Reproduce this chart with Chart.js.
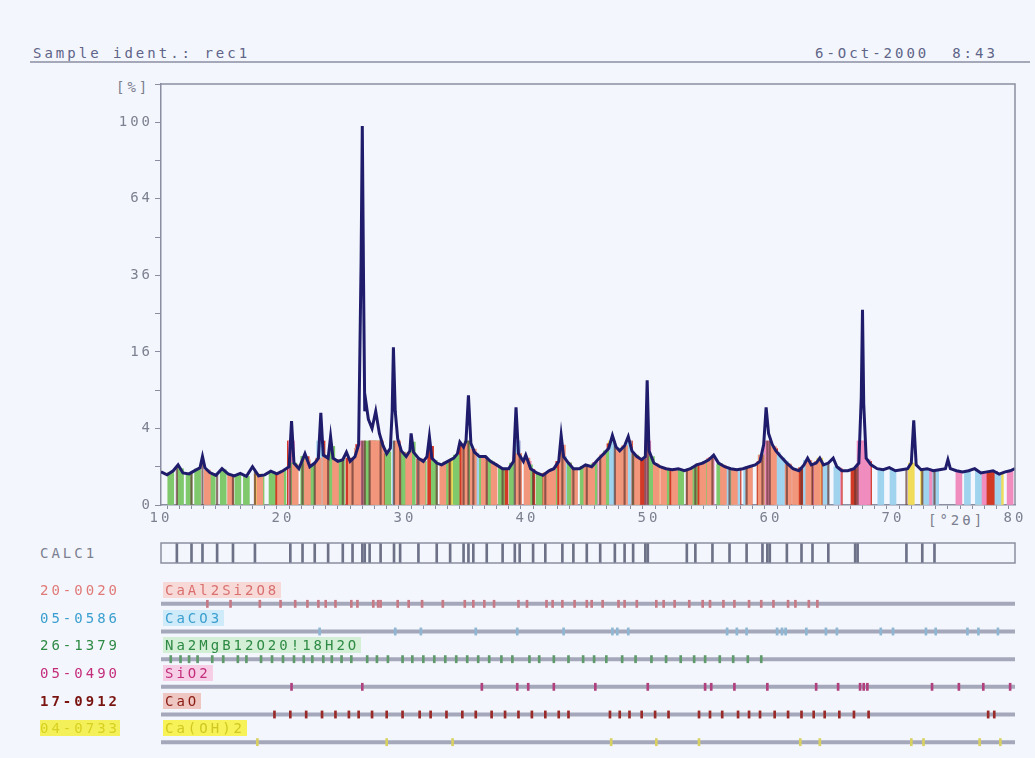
<!DOCTYPE html>
<html>
<head>
<meta charset="utf-8">
<script src="https://cdn.jsdelivr.net/npm/chart.js@4.4.0/dist/chart.umd.min.js"></script>
<style>
  body { margin: 0; background: #f3f6fc; }
  #page { position: relative; width: 1035px; height: 758px; overflow: hidden; background: #f3f6fc;
          font-family: "DejaVu Sans Mono", monospace; font-size: 14px; letter-spacing: 3px; }
  canvas { position: absolute; left: 0; }
  .lbl { position: absolute; white-space: pre; line-height: 16px; }
</style>
</head>
<body>
<div id="page">
  <div class="lbl" style="left:33px;top:45px;color:#5f6488">Sample ident.: rec1</div>
  <div class="lbl" style="left:815px;top:45px;color:#5f6488">6-Oct-2000  8:43</div>
  <div style="position:absolute;left:30px;top:61px;width:1000px;border-top:2px solid #a4a8b8"></div>
  <div class="lbl" style="left:116px;top:79px;color:#7c8090">[%]</div>
  <div class="lbl" style="left:928px;top:512px;color:#7c8090">[°2θ]</div>
  <div class="lbl" style="left:40px;top:545px;color:#7c8090">CALC1</div>
  <canvas id="main" width="1035" height="530" style="top:0"></canvas>
  <canvas id="calc" width="1035" height="30" style="top:538px"></canvas>
  <canvas id="rows" width="1035" height="183" style="top:575px"></canvas>
</div>
<script>
// measured scan, 2theta vs relative intensity in %
const twoTheta = [
  10.0, 10.5, 11.0, 11.4, 11.8, 12.3, 12.8, 13.2, 13.4, 13.6,
  14.0, 14.5, 15.0, 15.5, 16.0, 16.5, 17.0, 17.5, 18.0, 18.5,
  19.0, 19.5, 20.0, 20.5, 20.7, 20.9, 21.3, 21.8, 22.2, 22.6,
  22.9, 23.1, 23.3, 23.7, 23.9, 24.1, 24.5, 24.9, 25.2, 25.5,
  25.9, 26.2, 26.4, 26.5, 26.6, 26.7, 26.8, 27.0, 27.3, 27.6,
  27.9, 28.2, 28.5, 28.8, 28.95, 29.05, 29.2, 29.4, 29.7, 30.1,
  30.4, 30.5, 30.7, 31.1, 31.5, 31.8, 32.0, 32.2, 32.6, 33.0,
  33.5, 34.0, 34.3, 34.5, 34.8, 35.0, 35.2, 35.4, 35.7, 36.1,
  36.6, 37.0, 37.5, 38.0, 38.5, 38.9, 39.1, 39.3, 39.7, 39.9,
  40.3, 40.8, 41.3, 41.8, 42.2, 42.6, 42.8, 43.0, 43.4, 43.8,
  44.3, 44.8, 45.3, 45.8, 46.3, 46.7, 47.0, 47.3, 47.6, 48.0,
  48.3, 48.6, 49.0, 49.4, 49.7, 49.85, 50.0, 50.4, 50.9, 51.4,
  51.9, 52.4, 52.9, 53.4, 53.9, 54.4, 54.9, 55.3, 55.7, 56.2,
  56.7, 57.2, 57.7, 58.2, 58.7, 59.1, 59.4, 59.6, 59.8, 60.1,
  60.4, 60.8, 61.3, 61.8, 62.3, 62.7, 63.0, 63.3, 63.7, 64.0,
  64.3, 64.7, 65.1, 65.4, 65.8, 66.3, 66.8, 67.2, 67.4, 67.5,
  67.6, 67.8, 68.2, 68.7, 69.2, 69.7, 70.2, 70.7, 71.2, 71.5,
  71.7, 71.9, 72.3, 72.8, 73.3, 73.8, 74.3, 74.5, 74.7, 75.2,
  75.7, 76.2, 76.7, 77.2, 77.7, 78.2, 78.7, 79.2, 79.6, 80.0
];
const intensity = [
  0.75, 0.62, 0.80, 1.10, 0.70, 0.66, 0.82, 0.95, 1.60, 0.95,
  0.72, 0.60, 0.90, 0.66, 0.58, 0.68, 0.56, 1.00, 0.58, 0.62,
  0.78, 0.66, 0.80, 1.00, 4.80, 1.20, 0.90, 1.80, 1.00, 1.20,
  1.50, 5.80, 1.70, 1.50, 3.20, 1.50, 1.30, 1.40, 1.90, 1.30,
  1.60, 2.50, 40, 98, 35, 6.0, 7.2, 5.0, 4.0, 6.0,
  3.5, 2.4, 1.8, 2.2, 6.0, 17, 6.0, 3.0, 2.0, 1.6,
  2.0, 3.5, 1.9, 1.5, 1.3, 1.6, 3.2, 1.5, 1.2, 1.1,
  1.3, 1.5, 1.8, 2.7, 2.3, 2.8, 8.2, 2.6, 1.9, 1.6,
  1.6, 1.3, 1.1, 0.9, 0.9, 1.3, 6.5, 1.8, 1.3, 1.7,
  0.9, 0.7, 0.6, 0.8, 0.9, 1.3, 3.3, 1.6, 1.2, 0.9,
  0.9, 1.1, 1.0, 1.4, 1.8, 2.2, 3.3, 2.3, 2.0, 2.4,
  3.2, 2.0, 1.6, 1.4, 1.6, 10.6, 2.0, 1.2, 1.0, 0.9,
  0.85, 0.9, 0.8, 0.9, 1.1, 1.2, 1.4, 1.7, 1.2, 1.0,
  0.9, 0.85, 0.9, 1.0, 1.1, 1.3, 2.5, 6.5, 3.5, 2.5,
  2.0, 1.6, 1.2, 0.9, 0.8, 1.1, 1.5, 1.1, 1.2, 1.5,
  1.1, 1.2, 1.5, 1.0, 0.8, 0.8, 0.9, 1.2, 8, 26,
  7, 1.5, 1.1, 0.9, 0.85, 0.95, 0.8, 0.85, 0.9, 1.2,
  4.9, 1.1, 0.85, 0.9, 0.8, 0.85, 0.9, 1.4, 0.9, 0.8,
  0.75, 0.8, 0.9, 0.7, 0.75, 0.8, 0.65, 0.75, 0.8, 0.9
];

const intensityTicks = [0, 4, 16, 36, 64, 100];
const angleTicks = [10, 20, 30, 40, 50, 60, 70, 80];

// peaks found by the search (CALC1 row)
const calcPeaks = [11.3, 12.5, 13.4, 14.6, 15.9, 17.7, 20.6, 21.6, 22.6, 23.7, 24.9, 25.7, 26.5, 26.7, 27.1,
  28.0, 29.1, 29.6, 31.1, 32.6, 33.7, 34.8, 35.2, 35.6, 36.7, 38.0, 39.0, 39.4, 40.5, 41.5, 42.9, 43.8,
  44.9, 46.0, 47.2, 48.0, 48.7, 49.7, 49.9, 53.1, 53.8, 55.2, 56.6, 58.0, 59.3, 59.7, 59.9, 61.3, 62.5,
  63.4, 64.7, 66.9, 67.1, 71.1, 72.4, 73.4];

// reference patterns
const phaseCodes = ["20-0020", "05-0586", "26-1379", "05-0490", "17-0912", "04-0733"];
const phaseNames = ["CaAl2Si2O8", "CaCO3", "Na2MgB12O20!18H2O", "SiO2", "CaO", "Ca(OH)2"];
const anorthitePeaks = [13.8, 15.7, 18.1, 19.8, 21.0, 22.0, 22.9, 23.5, 24.3, 25.6, 26.1, 27.4, 27.8, 28.0,
  29.4, 30.3, 31.4, 33.1, 34.9, 35.6, 36.5, 37.3, 39.3, 40.0, 41.6, 42.1, 42.9, 43.9, 44.9, 45.3, 46.2,
  47.5, 48.0, 49.0, 50.6, 51.2, 52.1, 53.3, 54.4, 55.0, 56.1, 57.0, 58.2, 59.2, 60.2, 61.4, 62.0, 63.1, 63.8];
const calcitePeaks = [23.0, 29.2, 31.3, 35.8, 39.2, 43.0, 47.0, 47.4, 48.3, 56.4, 57.2, 58.0, 60.5, 60.9,
  61.2, 62.9, 64.5, 65.4, 69.0, 70.0, 72.7, 73.5, 76.1, 77.0, 78.6];
const boratePeaks = [10.8, 11.6, 12.3, 13.0, 14.2, 15.1, 16.3, 17.0, 18.2, 19.1, 20.0, 20.9, 21.7, 22.4,
  23.3, 24.0, 24.8, 25.6, 26.9, 27.7, 28.6, 29.8, 30.6, 31.5, 32.4, 33.3, 34.2, 35.1, 36.0, 36.9, 37.9,
  38.8, 40.2, 41.0, 42.2, 43.4, 44.6, 45.5, 46.5, 47.8, 48.9, 50.2, 51.4, 52.6, 53.7, 54.6, 55.8, 56.9,
  58.1, 59.2];
const quartzPeaks = [20.7, 26.5, 36.3, 39.2, 40.1, 42.2, 45.6, 49.9, 54.6, 55.1, 57.0, 59.7, 63.7, 65.5,
  67.3, 67.6, 67.9, 73.2, 75.4, 77.4, 79.6];
const limePeaks = [19.3, 20.6, 21.9, 23.2, 24.3, 25.4, 26.2, 27.3, 28.5, 29.8, 31.2, 32.1, 33.4, 34.7,
  35.8, 37.1, 38.2, 39.3, 40.4, 41.5, 42.6, 43.4, 46.8, 47.6, 48.4, 49.4, 50.5, 51.6, 54.1, 55.0, 56.0,
  57.3, 58.2, 59.1, 60.3, 61.4, 62.5, 63.5, 64.4, 65.6, 66.8, 68.0, 77.8, 78.3];
const portlanditePeaks = [17.9, 28.5, 33.9, 46.9, 50.6, 54.1, 62.4, 64.0, 71.5, 72.5, 77.1, 78.8];
const phasePeaks = [anorthitePeaks, calcitePeaks, boratePeaks, quartzPeaks, limePeaks, portlanditePeaks];

// styles
const codeColors = ["#e07a78", "#3a9fd0", "#2e8a44", "#c42d7c", "#7a1410", "#d8d020"];
const codeBg = ["transparent", "transparent", "transparent", "transparent", "transparent", "#f4f05a"];
const nameColors = ["#d9706e", "#3a9fd0", "#2e8a44", "#c42d7c", "#8a1c14", "#d0c820"];
const nameBg = ["#f7d9d8", "#cfeaf8", "#d3efd6", "#f6cfe6", "#efc7c2", "#f6f257"];
const stripeColors = ["#f2967c", "#9fd3ee", "#7fc86c", "#f08cbe", "#d23a26", "#f0dc58"];
const tickColors = ["#c77a86", "#8fb7d4", "#5e9a6a", "#b0407e", "#9a2a28", "#d8d060"];
const axisColor = "#8a8ea0";
const textColor = "#7c8090";
const stripeCap = 2.8;

const tickFont = { family: "DejaVu Sans Mono", size: 14 };

// intensity of the scan at a given angle, for the height of the stripes
function curveAt(t) {
  for (let i = 1; i < twoTheta.length; i++) {
    if (twoTheta[i] >= t) {
      const f = (t - twoTheta[i - 1]) / (twoTheta[i] - twoTheta[i - 1]);
      return intensity[i - 1] + f * (intensity[i] - intensity[i - 1]);
    }
  }
  return intensity[intensity.length - 1];
}

const spacing = {
  id: "spacing",
  beforeDraw(chart) { chart.ctx.letterSpacing = "3px"; }
};

const frame = {
  id: "frame",
  afterDraw(chart, args, opts) {
    const { ctx, chartArea: a } = chart;
    ctx.save();
    ctx.letterSpacing = "0px";
    ctx.strokeStyle = opts.color;
    ctx.lineWidth = opts.width;
    if (opts.box) {
      ctx.strokeRect(a.left, a.top, a.right - a.left, a.bottom - a.top);
    } else {
      ctx.beginPath();
      ctx.moveTo(a.left, a.top);
      ctx.lineTo(a.right, a.top);
      ctx.lineTo(a.right, a.bottom);
      ctx.stroke();
    }
    ctx.restore();
  }
};

// main diffractogram, square root intensity scale
const mainSets = [{
  type: "line",
  data: twoTheta.map((t, i) => ({ x: t, y: Math.sqrt(intensity[i]) })),
  borderColor: "#1f1c6c",
  borderWidth: 3,
  pointRadius: 0,
  tension: 0,
  order: 0
}, {
  type: "bar",
  data: calcPeaks.map(t => ({ x: t, y: [0, Math.sqrt(Math.min(curveAt(t), stripeCap))] })),
  backgroundColor: "rgba(100,55,50,0.7)",
  barThickness: 1.5,
  grouped: false,
  order: 1
}];
phasePeaks.forEach((peaks, k) => {
  mainSets.push({
    type: "bar",
    data: peaks.map(t => ({ x: t, y: [0, Math.sqrt(Math.min(curveAt(t), stripeCap))] })),
    backgroundColor: stripeColors[k],
    barThickness: 6,
    grouped: false,
    order: 2
  });
});

new Chart(document.getElementById("main"), {
  type: "line",
  data: { datasets: mainSets },
  plugins: [spacing, frame],
  options: {
    responsive: false,
    animation: false,
    layout: { padding: { top: 84, right: 20, left: 0, bottom: 0 } },
    plugins: {
      legend: { display: false },
      tooltip: { enabled: false },
      frame: { color: axisColor, width: 1.5, box: false }
    },
    scales: {
      x: {
        type: "linear", min: 10, max: 80, offset: false,
        afterFit: s => { s.height = 25; },
        border: { color: axisColor, width: 1.5 },
        grid: { drawOnChartArea: false, color: axisColor, tickLength: 4 },
        ticks: { stepSize: 1, autoSkip: false, maxRotation: 0, color: textColor, font: tickFont, padding: 1,
          callback: v => angleTicks.includes(v) ? String(v) : "" }
      },
      y: {
        min: 0, max: 11,
        afterFit: s => { s.width = 161; },
        border: { color: axisColor, width: 1.5 },
        grid: { drawOnChartArea: false, color: axisColor, tickLength: 6 },
        ticks: { stepSize: 1, autoSkip: false, color: textColor, font: tickFont, padding: 2,
          callback: v => intensityTicks.includes(v * v) ? String(v * v) : "" }
      }
    }
  }
});

// CALC1 line pattern
new Chart(document.getElementById("calc"), {
  type: "bar",
  data: { datasets: [{
    data: calcPeaks.map(t => ({ x: t, y: [0, 1] })),
    backgroundColor: "#6e7288",
    barThickness: 2
  }] },
  plugins: [frame],
  options: {
    responsive: false,
    animation: false,
    layout: { padding: { top: 5, bottom: 5, left: 161, right: 20 } },
    plugins: { legend: { display: false }, tooltip: { enabled: false },
      frame: { color: axisColor, width: 1.5, box: true } },
    scales: {
      x: { type: "linear", min: 10, max: 80, offset: false, display: false },
      y: { min: 0, max: 1, display: false }
    }
  }
});

// reference pattern rows
const rowSets = [];
phasePeaks.forEach((peaks, k) => {
  const row = k + 1;
  rowSets.push({
    type: "bar",
    data: peaks.map(t => ({ x: t, y: [row - 0.13, row + 0.13] })),
    backgroundColor: tickColors[k],
    barThickness: 2,
    grouped: false,
    order: 1
  });
  rowSets.push({
    type: "line",
    data: [{ x: 10, y: row }, { x: 80, y: row }],
    borderColor: "#a4a8ba",
    borderWidth: 4,
    pointRadius: 0,
    order: 2
  });
});

const rowsChart = new Chart(document.getElementById("rows"), {
  type: "bar",
  data: { datasets: rowSets },
  options: {
    responsive: false,
    animation: false,
    layout: { padding: { top: 15, bottom: 2, left: 161, right: 20 } },
    plugins: { legend: { display: false }, tooltip: { enabled: false } },
    scales: {
      x: { type: "linear", min: 10, max: 80, offset: false, display: false },
      y: { min: 0.5, max: 6.5, reverse: true, display: false }
    }
  }
});

// phase labels above each row
const page = document.getElementById("page");
const rowsTop = 575;
phaseCodes.forEach((code, k) => {
  const y = rowsTop + rowsChart.scales.y.getPixelForValue(k + 1) - 22;
  const c = document.createElement("div");
  c.className = "lbl";
  c.textContent = code;
  c.style.cssText += `left:40px;top:${y}px;color:${codeColors[k]};background:${codeBg[k]};` +
    (k === 4 ? "font-weight:bold;" : "");
  page.appendChild(c);
  const n = document.createElement("div");
  n.className = "lbl";
  n.textContent = phaseNames[k];
  n.style.cssText += `left:163px;top:${y}px;color:${nameColors[k]};background:${nameBg[k]};padding:0 2px;`;
  page.appendChild(n);
});
</script>
</body>
</html>
